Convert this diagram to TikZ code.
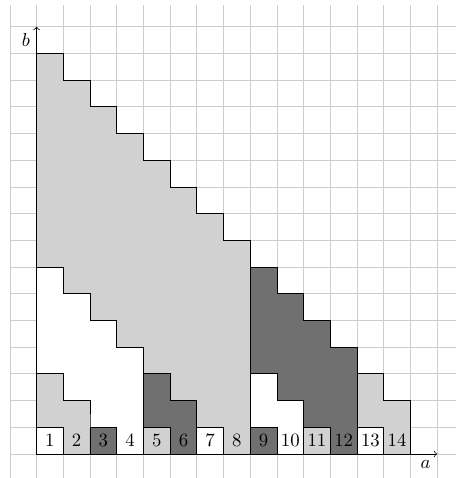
\documentclass[tikz,border=0pt]{standalone}
\usepackage{tikz}

% one staircase: style, first column, number of steps, height
\newcommand{\stair}[4]{%
  \filldraw[#1] (#2,0) -- (#2,#4) \foreach \k in {1,...,#3} {-- ++(1,0) -- ++(0,-1)} |- (#2,0) -- cycle;}

\begin{document}
\begin{tikzpicture}
                [scale=0.5, lite/.style = {draw, fill=black!18}, dark/.style = {draw, fill=black!56}, blank/.style = {draw, fill=white}]
                \useasboundingbox (-1.37,-0.9) rectangle (15.7,17);
                % Grid
                \draw[gray!40, thin] (-1,-0.9) grid (15.7,16.8);
                % First level
                \stair{lite}{0}{8}{15}
                \stair{dark}{8}{4}{7}
                \stair{lite}{12}{2}{3}
                % Second level
                \stair{blank}{0}{4}{7}
                \stair{dark}{4}{2}{3}
                \stair{blank}{6}{1}{1}
                \stair{blank}{8}{2}{3}
                \stair{lite}{10}{1}{1}
                \stair{blank}{12}{1}{1}
                % Third level
                \stair{lite}{0}{2}{3}
                \stair{dark}{2}{1}{1}
                \stair{lite}{4}{1}{1}
                \stair{dark}{8}{1}{1}
                % Fourth level
                \stair{blank}{0}{1}{1}
                % Axes
                \coordinate (O) at (0,0);
                \coordinate (A) at (15,0);
                \coordinate (B) at (0,16);
                \draw[->] (O) -- (A);
                \draw[->] (O) -- (B);
                \node[below left] (a) at (A) {$a$};
                \node[below left] (b) at (B) {$b$};
                % Numbers in the bottom row
                \foreach \i in {1,...,14}
                    \node (n\i) at (\i-0.5,0.5) {\i};
            \end{tikzpicture}
\end{document}
